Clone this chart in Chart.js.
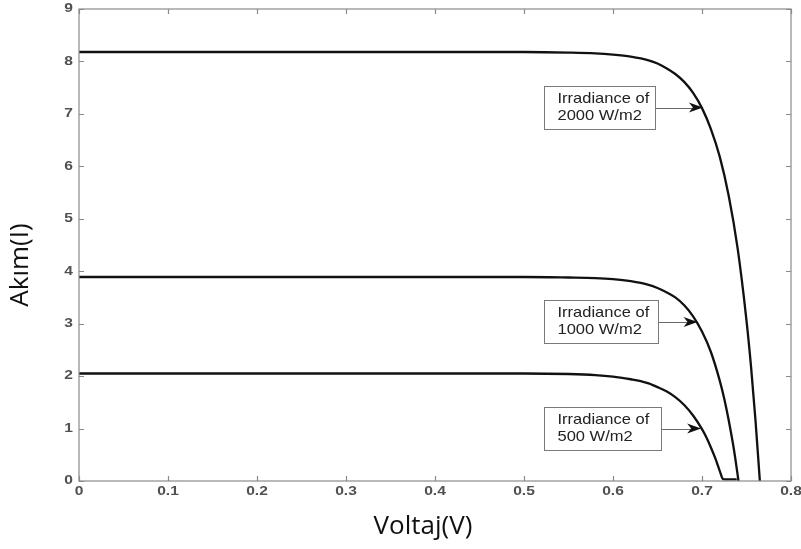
<!DOCTYPE html>
<html>
<head>
<meta charset="utf-8">
<title>Akım - Voltaj</title>
<script src="https://cdn.jsdelivr.net/npm/chart.js@4.4.1/dist/chart.umd.min.js"></script>
<style>
    html, body { margin: 0; padding: 0; background: #fff; }
    #wrap { width: 801px; height: 549px; }
</style>
</head>
<body>
<div id="wrap"><canvas id="iv-chart" width="801" height="549"></canvas></div>
<script>
// --- Data ---
const voltage2000 = [0, 0.1, 0.2, 0.3, 0.4, 0.5, 0.55, 0.58, 0.6, 0.62, 0.64, 0.65, 0.66, 0.67, 0.68, 0.69, 0.70, 0.71, 0.72, 0.73, 0.74, 0.75, 0.755, 0.76, 0.765];
const current2000 = [8.18, 8.18, 8.18, 8.18, 8.18, 8.18, 8.17, 8.155, 8.13, 8.09, 8.02, 7.96, 7.87, 7.76, 7.61, 7.40, 7.11, 6.71, 6.18, 5.44, 4.44, 3.06, 2.2, 1.18, 0];

const voltage1000 = [0, 0.1, 0.2, 0.3, 0.4, 0.5, 0.55, 0.58, 0.6, 0.62, 0.64, 0.65, 0.66, 0.67, 0.68, 0.69, 0.70, 0.71, 0.72, 0.725, 0.73, 0.735, 0.738, 0.741];
const current1000 = [3.89, 3.89, 3.89, 3.89, 3.89, 3.89, 3.88, 3.87, 3.85, 3.81, 3.74, 3.68, 3.60, 3.50, 3.35, 3.14, 2.85, 2.46, 1.91, 1.57, 1.16, 0.69, 0.36, 0];

const voltage500 = [0, 0.1, 0.2, 0.3, 0.4, 0.5, 0.55, 0.58, 0.6, 0.62, 0.63, 0.64, 0.65, 0.66, 0.67, 0.68, 0.69, 0.70, 0.705, 0.71, 0.715, 0.72, 0.7235, 0.727, 0.739];
const current500 = [2.05, 2.05, 2.05, 2.05, 2.05, 2.05, 2.04, 2.02, 1.99, 1.94, 1.91, 1.86, 1.79, 1.71, 1.60, 1.45, 1.25, 0.99, 0.83, 0.64, 0.43, 0.19, 0.04, 0.03, 0.03];

const xTicks = [0, 0.1, 0.2, 0.3, 0.4, 0.5, 0.6, 0.7, 0.8];
const xTickLabels = ['0', '0.1', '0.2', '0.3', '0.4', '0.5', '0.6', '0.7', '0.8'];
const yTicks = [0, 1, 2, 3, 4, 5, 6, 7, 8, 9];
const yTickLabels = ['0', '1', '2', '3', '4', '5', '6', '7', '8', '9'];

// annotation boxes: text lines, arrow tip on the curve (V, I), box left edge (V)
const noteLines = [['Irradiance of', '2000 W/m2'], ['Irradiance of', '1000 W/m2'], ['Irradiance of', '500 W/m2']];
const noteTipV = [0.701, 0.695, 0.699];
const noteTipI = [7.12, 3.03, 1.0];
const noteBoxV = [0.522, 0.522, 0.522];

const xTitle = 'Voltaj(V)';
const yTitle = 'Akım(I)';

// --- Helpers ---
function toPoints(xs, ys) {
    return xs.map((x, i) => ({ x: x, y: ys[i] }));
}

function curve(xs, ys) {
    return {
        data: toPoints(xs, ys),
        borderColor: '#111',
        borderWidth: 2.3,
        pointRadius: 0,
        fill: false,
        cubicInterpolationMode: 'monotone'
    };
}

// text stretched sideways like the scanned figure
function wideText(ctx, text, x, y, sx) {
    ctx.save();
    ctx.translate(x, y);
    ctx.scale(sx, 1);
    ctx.fillText(text, 0, 0);
    ctx.restore();
}

// frame with MATLAB-style inward ticks, tick labels, titles, text boxes with arrows
const framePlugin = {
    id: 'framePlugin',
    afterDatasetsDraw(chart) {
        const ctx = chart.ctx;
        const { left, right, top, bottom } = chart.chartArea;
        const xs = chart.scales.x;
        const ys = chart.scales.y;
        const tick = 5;

        ctx.save();
        ctx.strokeStyle = '#8a8a8a';
        ctx.lineWidth = 1.2;
        ctx.strokeRect(left, top, right - left, bottom - top);

        ctx.beginPath();
        xTicks.forEach(v => {
            const px = Math.round(xs.getPixelForValue(v)) + 0.5;
            ctx.moveTo(px, bottom); ctx.lineTo(px, bottom - tick);
            ctx.moveTo(px, top); ctx.lineTo(px, top + tick);
        });
        yTicks.forEach(v => {
            const py = Math.round(ys.getPixelForValue(v)) + 0.5;
            ctx.moveTo(left, py); ctx.lineTo(left + tick, py);
            ctx.moveTo(right, py); ctx.lineTo(right - tick, py);
        });
        ctx.stroke();

        // tick labels
        ctx.fillStyle = '#505050';
        ctx.font = 'bold 12px "Liberation Sans", Arial, sans-serif';
        ctx.textBaseline = 'middle';
        ctx.textAlign = 'center';
        xTicks.forEach((v, i) => {
            wideText(ctx, xTickLabels[i], xs.getPixelForValue(v), bottom + 11, 1.3);
        });
        ctx.textAlign = 'right';
        yTicks.forEach((v, i) => {
            wideText(ctx, yTickLabels[i], left - 6, ys.getPixelForValue(v), 1.3);
        });

        // axis titles
        ctx.fillStyle = '#111';
        ctx.font = '26px "Open Sans", sans-serif';
        ctx.textAlign = 'center';
        ctx.fillText(xTitle, (left + right) / 2 - 12, bottom + 46);
        ctx.save();
        ctx.translate(left - 58, (top + bottom) / 2 + 20);
        ctx.rotate(-Math.PI / 2);
        ctx.fillText(yTitle, 0, 0);
        ctx.restore();

        // annotation boxes
        ctx.font = '15px "Liberation Sans", Arial, sans-serif';
        ctx.textAlign = 'left';
        noteLines.forEach((lines, i) => {
            const tipX = xs.getPixelForValue(noteTipV[i]);
            const tipY = ys.getPixelForValue(noteTipI[i]);
            const boxL = Math.round(xs.getPixelForValue(noteBoxV[i])) + 0.5;
            const textW = Math.max(...lines.map(t => ctx.measureText(t).width)) * 1.1;
            const boxR = Math.round(boxL + textW + 19 + i * 3) + 0.5;
            const boxT = Math.round(tipY - 22) + 0.5;
            const boxB = boxT + 43;

            ctx.fillStyle = '#fff';
            ctx.fillRect(boxL, boxT, boxR - boxL, boxB - boxT);
            ctx.strokeStyle = '#7a7a7a';
            ctx.lineWidth = 1;
            ctx.strokeRect(boxL, boxT, boxR - boxL, boxB - boxT);

            ctx.fillStyle = '#222';
            wideText(ctx, lines[0], boxL + 13, tipY - 9, 1.1);
            wideText(ctx, lines[1], boxL + 13, tipY + 8, 1.1);

            // arrow shaft
            ctx.beginPath();
            ctx.moveTo(boxR, Math.round(tipY) + 0.5);
            ctx.lineTo(tipX - 8, Math.round(tipY) + 0.5);
            ctx.strokeStyle = '#6a6a6a';
            ctx.stroke();
            // arrow head
            ctx.beginPath();
            ctx.moveTo(tipX, tipY);
            ctx.lineTo(tipX - 14, tipY - 5);
            ctx.lineTo(tipX - 10, tipY);
            ctx.lineTo(tipX - 14, tipY + 5);
            ctx.closePath();
            ctx.fillStyle = '#111';
            ctx.fill();
        });
        ctx.restore();
    }
};

const canvas = document.getElementById('iv-chart');

new Chart(canvas, {
    type: 'line',
    data: {
        datasets: [
            curve(voltage2000, current2000),
            curve(voltage1000, current1000),
            curve(voltage500, current500)
        ]
    },
    options: {
        responsive: false,
        animation: false,
        layout: { padding: { top: 9, right: 10, left: 0, bottom: 0 } },
        plugins: {
            legend: { display: false },
            tooltip: { enabled: false }
        },
        scales: {
            x: {
                type: 'linear',
                min: 0,
                max: 0.8,
                afterFit: (scale) => { scale.height = 68; },
                grid: { display: false, drawTicks: false },
                border: { display: false },
                ticks: { display: false }
            },
            y: {
                type: 'linear',
                min: 0,
                max: 9,
                afterFit: (scale) => { scale.width = 79; },
                grid: { display: false, drawTicks: false },
                border: { display: false },
                ticks: { display: false }
            }
        }
    },
    plugins: [framePlugin]
});
</script>
</body>
</html>
